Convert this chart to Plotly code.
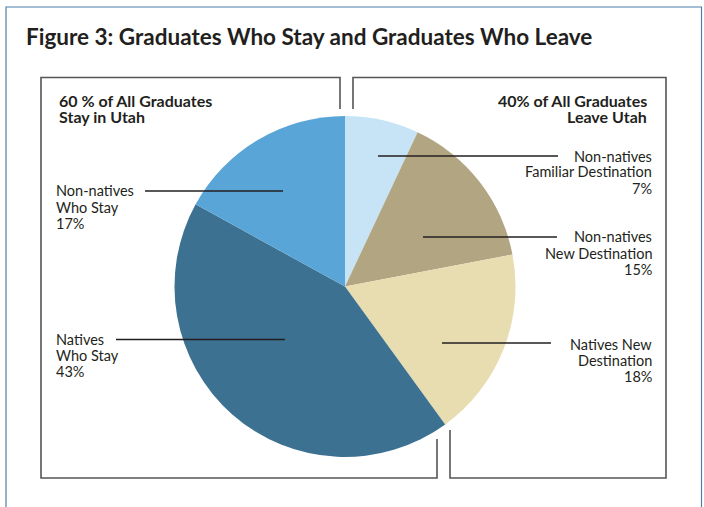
import plotly.graph_objects as go

W, H = 704, 507

# ---- data ----
categories = ["Non-natives Familiar Destination", "Non-natives New Destination",
              "Natives New Destination", "Natives Who Stay", "Non-natives Who Stay"]
shares = [7, 15, 18, 43, 17]
colors = ["#c6e4f6", "#b2a682", "#e8ddb1", "#3d7191", "#5aa5d8"]
title_text = "Figure 3: Graduates Who Stay and Graduates Who Leave"
group_left = ["60 % of All Graduates", "Stay in Utah"]
group_right = ["40% of All Graduates", "Leave Utah"]
label_lines = {
    "Non-natives Familiar Destination": ["Non-natives", "Familiar Destination", "7%"],
    "Non-natives New Destination": ["Non-natives", "New Destination", "15%"],
    "Natives New Destination": ["Natives New", "Destination", "18%"],
    "Natives Who Stay": ["Natives", "Who Stay", "43%"],
    "Non-natives Who Stay": ["Non-natives", "Who Stay", "17%"],
}

FONT = "Lato"
TXT = "#231f20"


def px(x):
    return x / W


def py(y):
    return 1 - y / H


# pie geometry (pixels)
cx, cy, r = 345, 286.5, 170.5

fig = go.Figure()
fig.add_trace(go.Pie(
    labels=categories, values=shares, sort=False, direction="clockwise",
    rotation=0, textinfo="none", hoverinfo="label+percent",
    marker=dict(colors=colors, line=dict(width=0)),
    domain=dict(x=[px(cx - r), px(cx + r)], y=[py(cy + r), py(cy - r)]),
    showlegend=False,
))

shapes = []
# outer frame
shapes.append(dict(type="path", xref="paper", yref="paper",
                   path=f"M {px(6)} {py(520)} L {px(6)} {py(7)} L {px(701.5)} {py(7)} L {px(701.5)} {py(520)}",
                   line=dict(color="#4f7ea8", width=1.2)))
# left group box
shapes.append(dict(type="path", xref="paper", yref="paper",
                   path=(f"M {px(340)} {py(109)} L {px(340)} {py(77.5)} L {px(41)} {py(77.5)} "
                         f"L {px(41)} {py(478)} L {px(437)} {py(478)} L {px(437)} {py(439)}"),
                   line=dict(color="#555555", width=1.6)))
# right group box
shapes.append(dict(type="path", xref="paper", yref="paper",
                   path=(f"M {px(353)} {py(109)} L {px(353)} {py(77.5)} L {px(666)} {py(77.5)} "
                         f"L {px(666)} {py(478)} L {px(450)} {py(478)} L {px(450)} {py(430)}"),
                   line=dict(color="#555555", width=1.6)))

# leader lines (x0, x1, y) in pixels
leaders = {
    "Non-natives Familiar Destination": (378, 558, 156),
    "Non-natives New Destination": (423, 557, 237),
    "Natives New Destination": (442, 551, 343),
    "Natives Who Stay": (116, 285, 339.5),
    "Non-natives Who Stay": (145, 283, 191),
}
for k, (x0, x1, y) in leaders.items():
    shapes.append(dict(type="line", xref="paper", yref="paper",
                       x0=px(x0), x1=px(x1), y0=py(y), y1=py(y),
                       line=dict(color="#231f20", width=1.3)))

annotations = []
annotations.append(dict(text=f"<b>{title_text}</b>", x=px(25), y=py(36), xref="paper", yref="paper",
                        xanchor="left", yanchor="middle", showarrow=False, borderpad=0,
                        font=dict(family=FONT, size=22.5, color=TXT)))

for i, t in enumerate(group_left):
    annotations.append(dict(text=f"<b>{t}</b>", x=px(58), y=py(100.5 + 15.5 * i), xref="paper", yref="paper",
                            xanchor="left", yanchor="middle", showarrow=False, borderpad=0,
                            font=dict(family=FONT, size=16, color=TXT)))
for i, t in enumerate(group_right):
    annotations.append(dict(text=f"<b>{t}</b>", x=px(648), y=py(100.5 + 15.5 * i), xref="paper", yref="paper",
                            xanchor="right", yanchor="middle", showarrow=False, borderpad=0,
                            font=dict(family=FONT, size=16, color=TXT)))

label_pos = {
    "Non-natives Familiar Destination": (653, 156, "right"),
    "Non-natives New Destination": (653, 237, "right"),
    "Natives New Destination": (653, 344, "right"),
    "Natives Who Stay": (55, 339.5, "left"),
    "Non-natives Who Stay": (55, 191, "left"),
}
for k, lines in label_lines.items():
    x, y0, anchor = label_pos[k]
    for i, t in enumerate(lines):
        annotations.append(dict(text=t, x=px(x), y=py(y0 + 16 * i), xref="paper", yref="paper",
                                xanchor=anchor, yanchor="middle", showarrow=False, borderpad=0,
                                font=dict(family=FONT, size=14.5, color=TXT)))

fig.update_layout(
    width=W, height=H, autosize=False,
    margin=dict(l=0, r=0, t=0, b=0),
    paper_bgcolor="white", plot_bgcolor="white",
    shapes=shapes, annotations=annotations,
)

fig.write_html("out.html", config={"displayModeBar": False},
               post_script="document.body.style.margin='0';document.body.style.overflow='hidden';")
